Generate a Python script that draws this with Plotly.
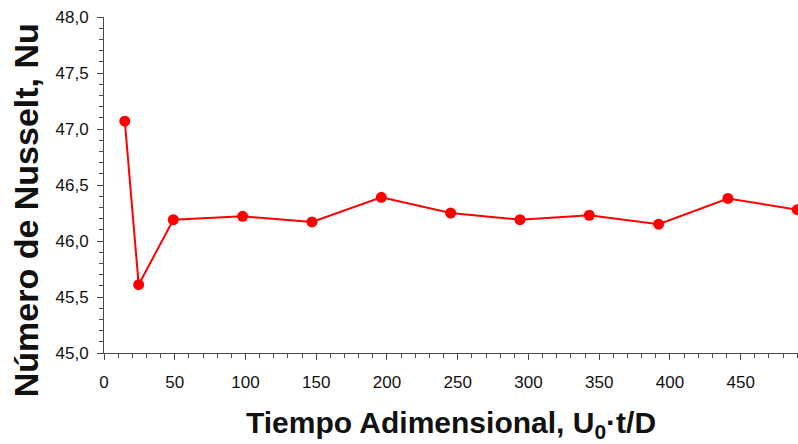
import plotly.graph_objects as go

# Dimensionless time U0·t/D and the corresponding Nusselt number
tiempo = [14.7, 24.5, 49, 98, 147, 196, 245, 294, 343, 392, 441, 490]
nusselt = [47.07, 45.61, 46.19, 46.22, 46.17, 46.39, 46.25, 46.19, 46.23, 46.15, 46.38, 46.28]

y_ticks = [45.0, 45.5, 46.0, 46.5, 47.0, 47.5, 48.0]
x_ticks = [0, 50, 100, 150, 200, 250, 300, 350, 400, 450]

RED = "#ff0000"
AXIS = "#4a4a4a"
TXT = "#111111"
FONT = "Liberation Sans, Arial, sans-serif"

fig = go.Figure()
fig.add_trace(go.Scatter(
    x=tiempo, y=nusselt, mode="lines+markers",
    line=dict(color=RED, width=2),
    marker=dict(color=RED, size=11),
    showlegend=False,
))

fig.update_layout(
    width=798, height=444,
    margin=dict(l=104, r=0, t=17, b=91),
    paper_bgcolor="white", plot_bgcolor="white",
    separators=",.",
    font=dict(family=FONT, color=TXT),
    xaxis=dict(
        range=[0, 490.5], tickvals=x_ticks, ticks="outside", ticklen=6,
        tickcolor=AXIS, tickwidth=1,
        minor=dict(dtick=10, tick0=0, ticks="outside", ticklen=4, tickcolor=AXIS),
        showline=True, linecolor=AXIS, linewidth=1,
        showgrid=False, zeroline=False,
        tickfont=dict(size=17, color=TXT), ticklabelstandoff=8,
    ),
    yaxis=dict(
        range=[45.0, 48.0], tickvals=y_ticks, tickformat=".1f",
        ticks="outside", ticklen=6, tickcolor=AXIS, tickwidth=1,
        minor=dict(dtick=0.1, tick0=45, ticks="outside", ticklen=4, tickcolor=AXIS),
        showline=True, linecolor=AXIS, linewidth=1,
        showgrid=False, zeroline=False,
        tickfont=dict(size=17, color=TXT), ticklabelstandoff=5,
    ),
    annotations=[
        dict(text="Tiempo Adimensional, U<sub>0</sub>·t/D",
             xref="paper", yref="paper", x=0.5, y=-0.214,
             xanchor="center", yanchor="middle", showarrow=False,
             font=dict(size=30, family=FONT, color=TXT, weight="bold")),
        dict(text="Número de Nusselt, Nu",
             xref="paper", yref="paper", x=-0.112, y=0.4256,
             xanchor="center", yanchor="middle", showarrow=False, textangle=-90,
             font=dict(size=34, family=FONT, color=TXT, weight="bold")),
    ],
)

fig.write_html("out.html")
